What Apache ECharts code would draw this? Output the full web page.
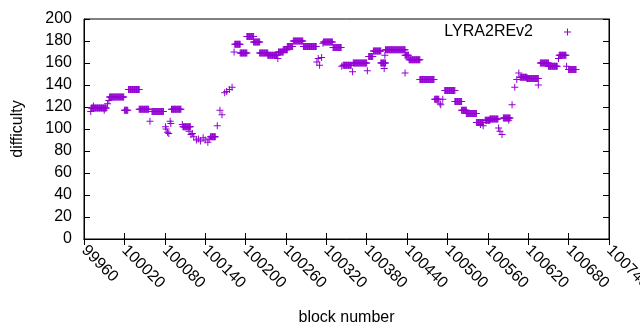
<!DOCTYPE html>
<html>
<head>
<meta charset="utf-8">
<script src="https://cdn.jsdelivr.net/npm/echarts@6/dist/echarts.min.js"></script>
<style>
  html, body { margin: 0; padding: 0; background: #fff; }
  #chart { width: 640px; height: 330px; }
</style>
</head>
<body>
<div id="chart"></div>
<script>
// difficulty runs: blocks runStart..runEnd share the value runDiff
const runStart = [
  99970, 99971, 99974, 99990, 99995, 99997, 99998, 100020, 100026, 100042,
  100058, 100061, 100081, 100082, 100084, 100086, 100088, 100089, 100090, 100106,
  100107, 100116, 100119, 100121, 100123, 100127, 100130, 100133, 100137, 100140,
  100144, 100146, 100148, 100158, 100162, 100165, 100169, 100172, 100176, 100180,
  100183, 100184, 100192, 100202, 100212, 100221, 100233, 100248, 100249, 100256,
  100262, 100271, 100286, 100306, 100308, 100310, 100313, 100315, 100316, 100330,
  100343, 100345, 100359, 100360, 100381, 100383, 100390, 100401, 100406, 100407,
  100408, 100437, 100437, 100443, 100459, 100481, 100489, 100490, 100493, 100496,
  100511, 100521, 100528, 100543, 100549, 100553, 100556, 100563, 100576, 100578,
  100581, 100583, 100591, 100596, 100600, 100603, 100606, 100608, 100618, 100635,
  100638, 100650, 100665, 100666, 100677, 100680
];
const runEnd = [
  99970, 99993, 99974, 99990, 99995, 99997, 100019, 100025, 100042, 100056,
  100058, 100078, 100081, 100082, 100084, 100086, 100088, 100089, 100104, 100106,
  100118, 100116, 100119, 100121, 100123, 100127, 100130, 100133, 100137, 100140,
  100144, 100146, 100155, 100158, 100162, 100165, 100169, 100172, 100176, 100180,
  100183, 100192, 100202, 100212, 100221, 100233, 100247, 100248, 100256, 100262,
  100270, 100285, 100305, 100306, 100308, 100310, 100313, 100315, 100329, 100342,
  100343, 100357, 100359, 100380, 100381, 100389, 100401, 100408, 100406, 100407,
  100437, 100437, 100442, 100459, 100480, 100487, 100489, 100490, 100493, 100511,
  100521, 100528, 100543, 100553, 100549, 100553, 100563, 100575, 100576, 100578,
  100581, 100593, 100591, 100596, 100600, 100603, 100606, 100618, 100635, 100635,
  100650, 100663, 100665, 100676, 100677, 100691
];
const runDiff = [
  116, 119, 121, 117, 123, 126, 129, 117, 136, 118,
  107, 116, 102, 100, 97, 96, 107, 105, 118, 104,
  102, 98, 95, 96, 93, 90, 91, 89, 92, 90,
  88, 91, 93, 103, 117, 113, 133, 134, 136, 138,
  170, 177, 169, 184, 179, 169, 167, 164, 170, 172,
  175, 180, 175, 161, 164, 158, 165, 178, 179, 174,
  157, 158, 152, 160, 153, 166, 171, 160, 155, 167,
  172, 151, 167, 163, 145, 127, 123, 122, 127, 135,
  125, 117, 114, 106, 104, 103, 108, 109, 101, 98,
  95, 110, 108, 122, 138, 145, 151, 147, 146, 140,
  160, 157, 164, 167, 157, 154
];

const xTickStart = 99960;
const xTickEnd = 100740;
const xTickStep = 60;
const yTickMax = 200;
const yTickStep = 20;

const seriesName = "LYRA2REv2";

// one point per block
const points = [];
runStart.forEach((from, i) => {
  for (let b = from; b <= runEnd[i]; b++) {
    points.push([b, runDiff[i]]);
  }
});

// gnuplot style "+" point
const plus = "path://M3,0H4V3H7V4H4V7H3V4H0V3H3Z";
const purple = "#9400d3";
const font = "Liberation Sans";
const fontSize = 16;

const chart = echarts.init(document.getElementById("chart"), null, { renderer: "canvas" });

const tickStyle = {
  show: true,
  inside: true,
  length: 6,
  lineStyle: { color: "#000", width: 1 }
};
const lineStyle = { show: true, lineStyle: { color: "#000", width: 1 } };

chart.setOption({
  animation: false,
  textStyle: { fontFamily: font },
  grid: {
    left: 84,
    right: 31,
    top: 19,
    bottom: 91,
    containLabel: false,
    outerBoundsMode: "none",
    show: true,
    borderColor: "#000",
    borderWidth: 1
  },
  legend: {
    data: [seriesName],
    right: 69,
    top: 24,
    padding: 0,
    align: "right",
    itemWidth: 7,
    itemHeight: 7,
    itemGap: 0,
    icon: plus,
    textStyle: {
      fontFamily: font,
      fontSize: fontSize,
      color: "#000",
      padding: [0, 26, 0, 0]
    }
  },
  xAxis: [
    {
      type: "value",
      min: xTickStart,
      max: xTickEnd,
      interval: xTickStep,
      name: "block number",
      nameLocation: "middle",
      nameGap: 71,
      nameTextStyle: { fontFamily: font, fontSize: fontSize, color: "#000" },
      axisLine: lineStyle,
      axisTick: tickStyle,
      splitLine: { show: false },
      axisLabel: {
        rotate: -45,
        margin: 9,
        fontFamily: font,
        fontSize: fontSize,
        color: "#000",
        showMinLabel: true,
        showMaxLabel: true,
        hideOverlap: false,
        formatter: v => String(v)
      }
    },
    {
      type: "value",
      position: "top",
      min: xTickStart,
      max: xTickEnd,
      interval: xTickStep,
      axisLine: lineStyle,
      axisTick: tickStyle,
      axisLabel: { show: false },
      splitLine: { show: false }
    }
  ],
  yAxis: [
    {
      type: "value",
      min: 0,
      max: yTickMax,
      interval: yTickStep,
      name: "difficulty",
      nameLocation: "middle",
      nameGap: 58,
      nameTextStyle: { fontFamily: font, fontSize: fontSize, color: "#000" },
      axisLine: lineStyle,
      axisTick: tickStyle,
      splitLine: { show: false },
      axisLabel: { margin: 12, fontFamily: font, fontSize: fontSize, color: "#000" }
    },
    {
      type: "value",
      position: "right",
      min: 0,
      max: yTickMax,
      interval: yTickStep,
      axisLine: lineStyle,
      axisTick: tickStyle,
      axisLabel: { show: false },
      splitLine: { show: false }
    }
  ],
  series: [
    {
      name: seriesName,
      type: "scatter",
      symbol: plus,
      symbolSize: 7,
      itemStyle: { color: purple, opacity: 1 },
      emphasis: { disabled: true },
      data: points
    }
  ]
});
</script>
</body>
</html>
